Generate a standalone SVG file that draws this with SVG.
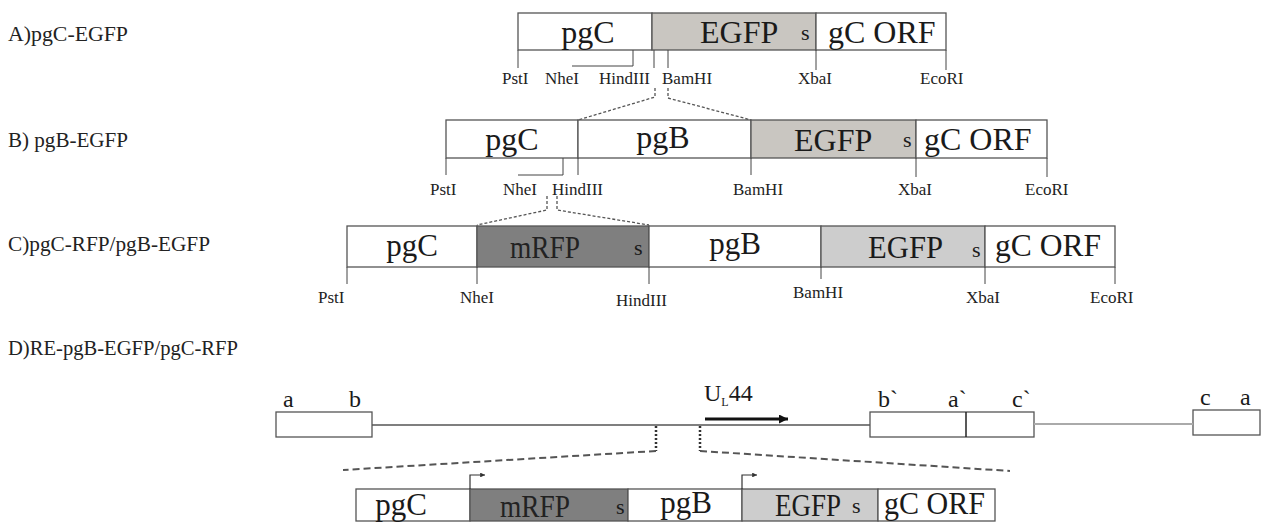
<svg xmlns="http://www.w3.org/2000/svg" width="1262" height="522" viewBox="0 0 1262 522">
<style>
.bg{fill:#fff}
.seg{fill:#fff;stroke:#555;stroke-width:1.3}
.egfp{fill:#c9c6c1;stroke:#555;stroke-width:1.3}
.egfp2{fill:#cdcdcd;stroke:#555;stroke-width:1.3}
.mrfp{fill:#7f7f7f;stroke:#555;stroke-width:1.3}
.big{font-family:"Liberation Serif","Times New Roman",serif;font-size:32px;fill:#1a1a1a}
.mid{font-family:"Liberation Serif","Times New Roman",serif;font-size:31px;fill:#1a1a1a}
.sm{font-family:"Liberation Serif","Times New Roman",serif;font-size:22px;fill:#1a1a1a}
.lt{font-family:"Liberation Serif","Times New Roman",serif;font-size:24px;fill:#1a1a1a}
.lbl{font-family:"Liberation Serif","Times New Roman",serif;font-size:17px;fill:#222}
.title{font-family:"Liberation Serif","Times New Roman",serif;font-size:20px;fill:#222}
.tick{stroke:#444;stroke-width:1;fill:none}
.dash{stroke:#555;stroke-width:1.3;stroke-dasharray:3 2;fill:none}
.dashD{stroke:#555;stroke-width:2;stroke-dasharray:7 4;fill:none}
.dotD{stroke:#333;stroke-width:2.5;stroke-dasharray:2 2;fill:none}
.line{stroke:#555;stroke-width:1.6;fill:none}
.lineL{stroke:#aaa;stroke-width:2;fill:none}
</style>
<defs>
<marker id="arr" viewBox="0 0 10 10" refX="10" refY="5" markerWidth="5" markerHeight="3" orient="auto" markerUnits="strokeWidth"><path d="M0,0 L10,5 L0,10 z" fill="#111"/></marker>
<marker id="arrs" viewBox="0 0 10 10" refX="10" refY="5" markerWidth="6" markerHeight="4" orient="auto" markerUnits="strokeWidth"><path d="M0,0 L10,5 L0,10 z" fill="#333"/></marker>
</defs>
<rect class="bg" x="0" y="0" width="1262" height="522"/>

<g id="titles">
<text class="title" x="8" y="41" textLength="120" lengthAdjust="spacingAndGlyphs">A)pgC-EGFP</text>
<text class="title" x="8" y="147" textLength="120" lengthAdjust="spacingAndGlyphs">B) pgB-EGFP</text>
<text class="title" x="8" y="251" textLength="202" lengthAdjust="spacingAndGlyphs">C)pgC-RFP/pgB-EGFP</text>
<text class="title" x="8" y="355" textLength="230" lengthAdjust="spacingAndGlyphs">D)RE-pgB-EGFP/pgC-RFP</text>
</g>

<!-- Row A -->
<g id="A-pgC"><rect class="seg" x="518" y="13" width="134" height="37"/><text class="big" x="588" y="43" text-anchor="middle">pgC</text></g>
<g id="A-EGFP"><rect class="egfp" x="652" y="13" width="164" height="37"/><text class="big" x="700" y="43">EGFP</text><text class="sm" x="801" y="40">s</text></g>
<g id="A-gC"><rect class="seg" x="816" y="13" width="130" height="37"/><text class="big" x="828" y="43">gC ORF</text></g>
<g id="A-sites">
<path class="tick" d="M518,50V68 M633,50V66 H572 M654,50V68 M668,50V68 M816,50V70 M946,50V70"/>
<text class="lbl" x="502" y="84">PstI</text>
<text class="lbl" x="545" y="84">NheI</text>
<text class="lbl" x="599" y="84">HindIII</text>
<text class="lbl" x="662" y="84">BamHI</text>
<text class="lbl" x="798" y="84">XbaI</text>
<text class="lbl" x="920" y="84">EcoRI</text>
</g>

<!-- Row B -->
<g id="B-pgC"><rect class="seg" x="446" y="120" width="132" height="38"/><text class="big" x="512" y="150" text-anchor="middle">pgC</text></g>
<g id="B-pgB"><rect class="seg" x="578" y="120" width="173" height="38"/><text class="big" x="663" y="148" text-anchor="middle">pgB</text></g>
<g id="B-EGFP"><rect class="egfp" x="751" y="120" width="165" height="38"/><text class="big" x="794" y="151">EGFP</text><text class="sm" x="903" y="147">s</text></g>
<g id="B-gC"><rect class="seg" x="916" y="120" width="131" height="38"/><text class="big" x="924" y="150">gC ORF</text></g>
<g id="B-sites">
<path class="tick" d="M446,158V175 M563,158V175 H518 M578,158V175 M751,158V175 M916,158V177 M1047,158V177"/>
<text class="lbl" x="430" y="195">PstI</text>
<text class="lbl" x="503" y="195">NheI</text>
<text class="lbl" x="552" y="195">HindIII</text>
<text class="lbl" x="733" y="195">BamHI</text>
<text class="lbl" x="898" y="195">XbaI</text>
<text class="lbl" x="1025" y="195">EcoRI</text>
</g>

<!-- Row C -->
<g id="C-pgC"><rect class="seg" x="347" y="226" width="130" height="41"/><text class="mid" x="412" y="256" text-anchor="middle">pgC</text></g>
<g id="C-mRFP"><rect class="mrfp" x="477" y="226" width="172" height="41"/><text class="mid" x="510" y="258" style="fill:#222" textLength="70" lengthAdjust="spacingAndGlyphs">mRFP</text><text class="sm" x="634" y="255">s</text></g>
<g id="C-pgB"><rect class="seg" x="649" y="226" width="172" height="41"/><text class="mid" x="735" y="254" text-anchor="middle">pgB</text></g>
<g id="C-EGFP"><rect class="egfp2" x="821" y="226" width="164" height="41"/><text class="mid" x="868" y="258" textLength="75" lengthAdjust="spacingAndGlyphs">EGFP</text><text class="sm" x="972" y="257">s</text></g>
<g id="C-gC"><rect class="seg" x="985" y="226" width="130" height="41"/><text class="mid" x="995" y="256" textLength="106" lengthAdjust="spacingAndGlyphs">gC ORF</text></g>
<g id="C-sites">
<path class="tick" d="M347,267V284 M477,267V284 M649,267V284 M821,267V279 M985,267V284 M1115,267V284"/>
<text class="lbl" x="318" y="303">PstI</text>
<text class="lbl" x="460" y="303">NheI</text>
<text class="lbl" x="616" y="306">HindIII</text>
<text class="lbl" x="793" y="298">BamHI</text>
<text class="lbl" x="966" y="303">XbaI</text>
<text class="lbl" x="1090" y="303">EcoRI</text>
</g>

<!-- Row D genome -->
<g id="D-left"><rect class="seg" x="276" y="412" width="96" height="25"/><text class="lt" x="283" y="407">a</text><text class="lt" x="349" y="407">b</text></g>
<g id="D-mid"><rect class="seg" x="870" y="412" width="164" height="25"/><path class="tick" d="M966,412V437" style="stroke:#222;stroke-width:1.5"/><text class="lt" x="878" y="407">b`</text><text class="lt" x="948" y="407">a`</text><text class="lt" x="1012" y="407">c`</text></g>
<g id="D-right"><rect class="seg" x="1193" y="410" width="67" height="25"/><text class="lt" x="1200" y="405">c</text><text class="lt" x="1240" y="405">a</text></g>
<g id="D-UL44"><text class="lt" x="704" y="401">U<tspan font-size="12" dy="5">L</tspan><tspan dy="-5">44</tspan></text></g>

<!-- Row D insert -->
<g id="D-pgC"><rect class="seg" x="356" y="489" width="114" height="32"/><text class="mid" x="401" y="515" text-anchor="middle">pgC</text></g>
<g id="D-mRFP"><rect class="mrfp" x="470" y="489" width="158" height="32"/><text class="mid" x="500" y="517" style="fill:#222" textLength="70" lengthAdjust="spacingAndGlyphs">mRFP</text><text class="sm" x="616" y="514">s</text></g>
<g id="D-pgB"><rect class="seg" x="628" y="489" width="114" height="32"/><text class="mid" x="686" y="513" text-anchor="middle">pgB</text></g>
<g id="D-EGFP"><rect class="egfp2" x="742" y="489" width="136" height="32"/><text class="mid" x="775" y="516" textLength="66" lengthAdjust="spacingAndGlyphs">EGFP</text><text class="sm" x="852" y="513">s</text></g>
<g id="D-gC"><rect class="seg" x="878" y="489" width="117" height="32"/><text class="mid" x="884" y="514" textLength="101" lengthAdjust="spacingAndGlyphs">gC ORF</text></g>

<g id="connectors">
<path class="dash" d="M655,88V97 L578,120"/>
<path class="dash" d="M668,88V98 L751,120"/>
<path class="dash" d="M547,196V210 L477,225"/>
<path class="dash" d="M557,196V210 L649,225"/>
<path class="line" d="M372,425H870"/>
<path class="lineL" d="M1034,424H1193"/>
<path d="M705,419H788" stroke="#111" stroke-width="3" fill="none" marker-end="url(#arr)"/>
<path class="dotD" d="M656,426V451"/>
<path class="dotD" d="M700,426V451"/>
<path class="dashD" d="M656,451L343,470"/>
<path class="dashD" d="M700,451L1010,471"/>
<path d="M470,489V475H485" stroke="#333" stroke-width="1.2" fill="none" marker-end="url(#arrs)"/>
<path d="M742,489V475H757" stroke="#333" stroke-width="1.2" fill="none" marker-end="url(#arrs)"/>
</g>
</svg>
